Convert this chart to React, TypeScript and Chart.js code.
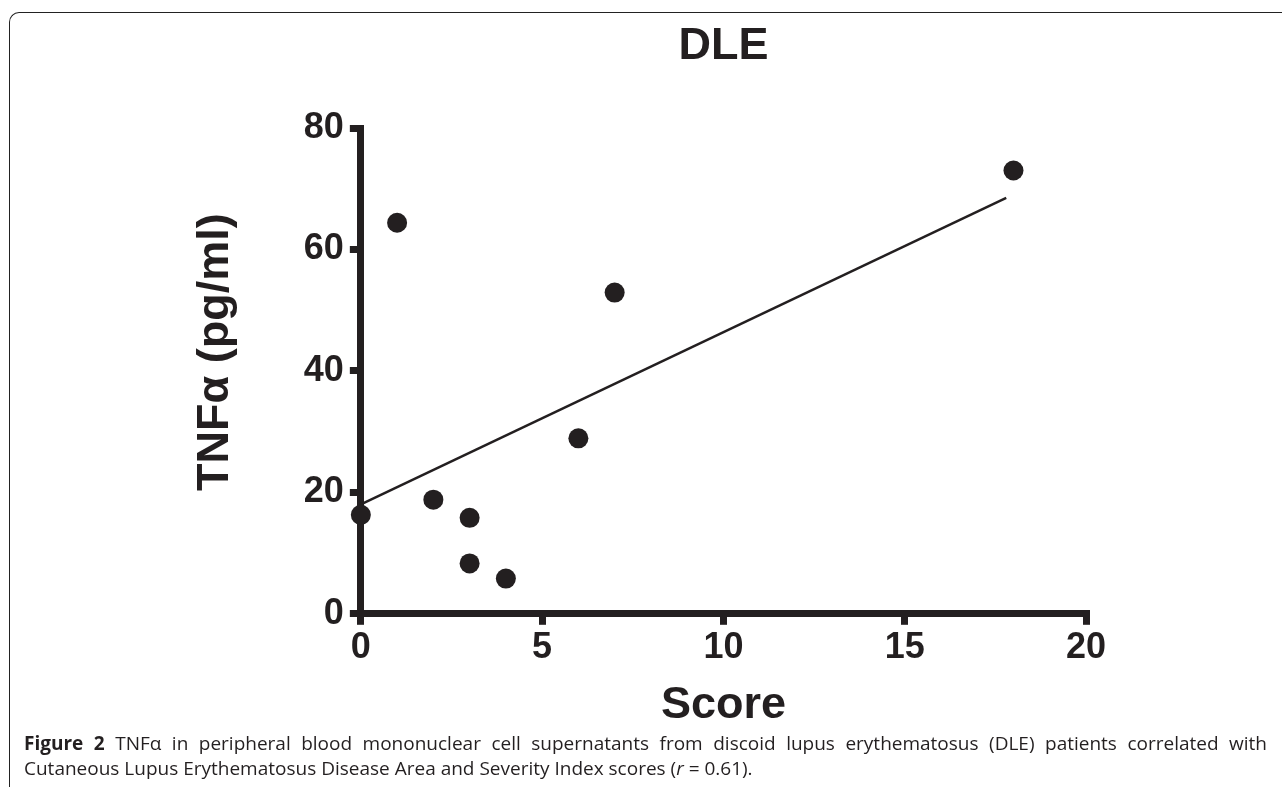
import React, { useEffect, useRef } from 'react';
import { Chart, registerables } from 'chart.js';

Chart.register(...registerables);

if (typeof document !== 'undefined') {
  document.body.style.margin = '0';
}

// ---- data ----
const scoreValues = [0, 1, 2, 3, 3, 4, 6, 7, 18];
const tnfValues = [16.3, 64.4, 18.8, 15.8, 8.3, 5.8, 28.9, 52.9, 73.0];
const fitLineX = [0, 17.8];
const fitLineY = [18.0, 68.5];
const xTicks = [0, 5, 10, 15, 20];
const yTicks = [0, 20, 40, 60, 80];
const chartTitle = 'DLE';
const xTitle = 'Score';
const yTitle = '   TNFα (pg/ml)';
const captionBold = 'Figure 2';
const captionLine1 =
  ' TNFα in peripheral blood mononuclear cell supernatants from discoid lupus erythematosus (DLE) patients correlated with';
const captionLine2a = 'Cutaneous Lupus Erythematosus Disease Area and Severity Index scores (';
const captionItalic = 'r';
const captionLine2b = ' = 0.61).';

const INK = '#231f20';
const FONT = "'Liberation Sans', Arial, sans-serif";

export default function App() {
  const ref = useRef<HTMLCanvasElement | null>(null);

  useEffect(() => {
    if (!ref.current) return;
    const chart = new Chart(ref.current, {
      type: 'scatter',
      data: {
        datasets: [
          {
            type: 'scatter',
            data: scoreValues.map((x, i) => ({ x, y: tnfValues[i] })),
            backgroundColor: INK,
            borderWidth: 0,
            pointRadius: 10,
            pointHoverRadius: 10,
            clip: false,
            order: 1,
          },
          {
            type: 'line',
            data: fitLineX.map((x, i) => ({ x, y: fitLineY[i] })),
            borderColor: INK,
            borderWidth: 2.5,
            pointRadius: 0,
            fill: false,
            clip: false,
            order: 2,
          } as any,
        ],
      },
      options: {
        responsive: false,
        animation: false,
        events: [],
        layout: { padding: { left: 188.4, right: 196, top: 0, bottom: 0 } },
        plugins: {
          legend: { display: false },
          tooltip: { enabled: false },
          title: {
            display: true,
            text: chartTitle,
            fullSize: false,
            color: INK,
            font: { family: FONT, size: 45, weight: 'bold' },
            padding: { top: 20, bottom: 54 },
          },
        },
        scales: {
          x: {
            type: 'linear',
            min: 0,
            max: 20,
            afterBuildTicks: (axis: any) => {
              axis.ticks = xTicks.map((v) => ({ value: v }));
            },
            border: { display: true, color: INK, width: 7 },
            grid: {
              display: true,
              drawOnChartArea: false,
              drawTicks: true,
              tickLength: 11,
              tickWidth: 7,
              lineWidth: 7,
              color: INK,
              tickColor: INK,
            },
            ticks: {
              color: INK,
              padding: 2,
              maxRotation: 0,
              font: { family: FONT, size: 36, weight: 'bold' },
            },
            title: {
              display: true,
              text: xTitle,
              color: INK,
              font: { family: FONT, size: 45, weight: 'bold' },
              padding: { top: 7, bottom: 0 },
            },
          },
          y: {
            type: 'linear',
            min: 0,
            max: 80,
            afterBuildTicks: (axis: any) => {
              axis.ticks = yTicks.map((v) => ({ value: v }));
            },
            border: { display: true, color: INK, width: 7 },
            grid: {
              display: true,
              drawOnChartArea: false,
              drawTicks: true,
              tickLength: 11,
              tickWidth: 7,
              lineWidth: 7,
              color: INK,
              tickColor: INK,
            },
            ticks: {
              color: INK,
              padding: 6,
              font: { family: FONT, size: 36, weight: 'bold' },
            },
            title: {
              display: true,
              text: yTitle,
              color: INK,
              font: { family: FONT, size: 45, weight: 'bold' },
              padding: { top: 0, bottom: 55.4 },
            },
          },
        },
      },
    });
    return () => chart.destroy();
  }, []);

  const capStyle: React.CSSProperties = {
    position: 'absolute',
    left: 24,
    width: 1243,
    fontFamily: "'Open Sans', 'Noto Sans', sans-serif",
    fontSize: 19,
    lineHeight: '25px',
    color: INK,
    whiteSpace: 'nowrap',
  };

  return (
    <div
      style={{
        position: 'relative',
        width: 1282,
        height: 787,
        overflow: 'hidden',
        background: '#fff',
      }}
    >
      <div
        style={{
          position: 'absolute',
          left: 9,
          top: 12,
          width: 1400,
          height: 900,
          borderLeft: '1.5px solid #222',
          borderTop: '1.5px solid #222',
          borderTopLeftRadius: 10,
        }}
      />
      <canvas
        ref={ref}
        width={1282}
        height={733}
        style={{ position: 'absolute', left: 0, top: 0, width: 1282, height: 733 }}
      />
      <div
        style={{
          ...capStyle,
          top: 731,
          whiteSpace: 'normal',
          textAlign: 'justify',
          textAlignLast: 'justify',
          height: 25,
          overflow: 'visible',
        }}
      >
        <b>{captionBold}</b>
        {captionLine1}
      </div>
      <div style={{ ...capStyle, top: 756 }}>
        {captionLine2a}
        <i>{captionItalic}</i>
        {captionLine2b}
      </div>
    </div>
  );
}
